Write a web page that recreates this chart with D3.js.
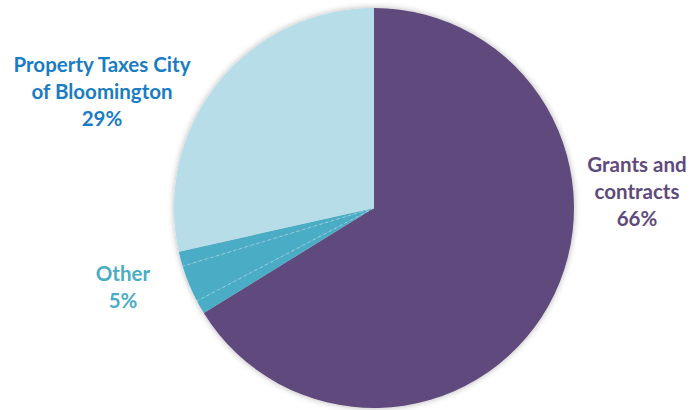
<!DOCTYPE html>
<meta charset="utf-8">
<html>
  <head>
    <title>revenue pie</title>
    <script src="https://d3js.org/d3.v7.min.js"></script>
    <style>
      body { margin: 0; background: #fff; }
      text { font-family: Lato, "Open Sans", sans-serif; font-weight: bold; }
    </style>
  </head>
  <body>
    <div id="chart"></div>
    <script type="text/javascript">
        /* data */
        var slices = ["Grants and contracts", "Other a", "Other b", "Other c", "Property Taxes City of Bloomington"];
        var values = [66.2, 1.1, 3.0, 1.2, 28.5];
        var groups = ["grants", "other", "other", "other", "property"];
        var label_lines = [["Grants and", "contracts", "66%"], ["Other", "5%"], ["Property Taxes City", "of Bloomington", "29%"]];
        var label_groups = ["grants", "other", "property"];

        var total_width = 695, total_height = 410,
            cx = 374, cy = 208, radius = 200;
        var fill = {grants: "#604a7b", other: "#4bacc6", property: "#b7dde8"};
        var text_color = {grants: "#604a7b", other: "#4bacc6", property: "#1a7cc2"};
        var label_pos = {grants: [637, 165], other: [123, 274], property: [102, 65]};

        var svg = d3.select("#chart").append("svg")
            .attr("width", total_width)
            .attr("height", total_height);

        var defs = svg.append("defs");
        var filter = defs.append("filter").attr("id", "shadow")
            .attr("x", "-10%").attr("y", "-10%").attr("width", "120%").attr("height", "120%");
        filter.append("feDropShadow")
            .attr("dx", 0).attr("dy", 0)
            .attr("stdDeviation", 3)
            .attr("flood-color", "#000")
            .attr("flood-opacity", 0.3);

        var pie = d3.pie().sort(null).value(function(d){ return d; });
        var arcs = pie(values);
        var arc = d3.arc().innerRadius(0).outerRadius(radius);

        var g = svg.append("g").attr("transform", "translate(" + cx + "," + cy + ")");

        g.append("g").attr("filter", "url(#shadow)")
            .selectAll("path")
            .data(arcs)
            .enter().append("path")
            .attr("d", arc)
            .attr("fill", function(d, i){ return fill[groups[i]]; });

        /* dashed separators inside the Other group */
        g.append("g").selectAll("line")
            .data(arcs.filter(function(d, i){ return i > 0 && groups[i] == "other" && groups[i - 1] == "other"; }))
            .enter().append("line")
            .attr("x1", 0).attr("y1", 0)
            .attr("x2", function(d){ return radius * Math.sin(d.startAngle); })
            .attr("y2", function(d){ return -radius * Math.cos(d.startAngle); })
            .attr("stroke", "#a6d5e2")
            .attr("stroke-width", 0.8)
            .attr("stroke-dasharray", "3,3");

        /* labels */
        label_groups.forEach(function(k, i){
            var t = svg.append("text")
                .attr("text-anchor", "middle")
                .attr("fill", text_color[k])
                .attr("font-size", 20.5);
            label_lines[i].forEach(function(s, j){
                t.append("tspan")
                    .attr("x", label_pos[k][0])
                    .attr("y", label_pos[k][1] + j * 27)
                    .attr("dy", "0.35em")
                    .text(s);
            });
        });
    </script>
  </body>
</html>
